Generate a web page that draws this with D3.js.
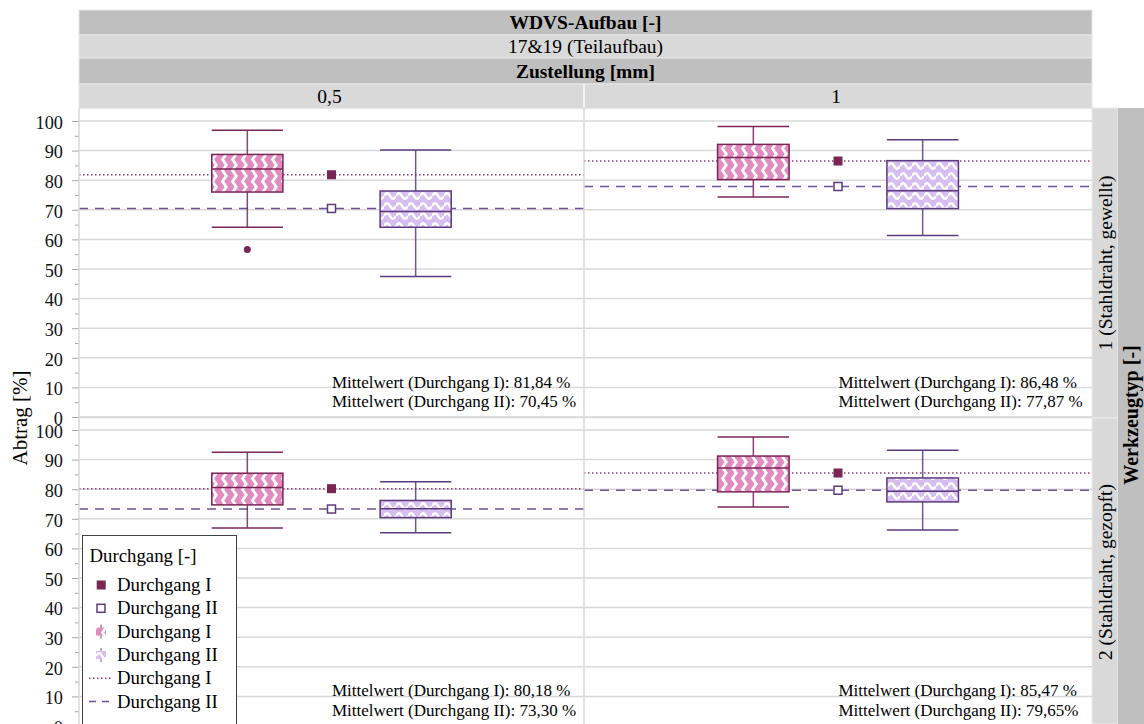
<!DOCTYPE html>
<html><head><meta charset="utf-8">
<script src="https://cdn.jsdelivr.net/npm/d3@7"></script>
<style>
html,body{margin:0;padding:0;background:#fff;}
svg{display:block;}
svg text{font-family:"Liberation Serif","Tinos","Times New Roman","Times","DejaVu Serif","Noto Serif",serif !important;}
</style></head>
<body><svg id="chart" width="1144" height="724" font-family="Liberation Serif, Tinos, Times New Roman, DejaVu Serif, serif"></svg>
<script>
// ---------- data ----------
const columns = ["0,5", "1"];
const rows = ["1 (Stahldraht, gewellt)", "2 (Stahldraht, gezopft)"];
const slots = ["Durchgang I", "Mittelwert", "Durchgang II"];
const yTicks = [0,10,20,30,40,50,60,70,80,90,100];
const yMinorTicks = [5,15,25,35,45,55,65,75,85,95];
// five-number summaries [min, q1, median, q3, max], indexed [row][column]
const boxI = [
  [[64.1, 76.0, 83.8, 88.7, 96.9], [74.3, 80.2, 87.7, 92.1, 98.1]],
  [[66.9, 74.7, 80.6, 85.4, 92.5], [74.0, 79.1, 87.2, 91.2, 97.6]]
];
const boxII = [
  [[47.5, 64.1, 69.4, 76.35, 90.2], [61.3, 70.4, 76.4, 86.6, 93.7]],
  [[65.3, 70.4, 73.4, 76.2, 82.5], [66.2, 75.7, 79.3, 83.8, 93.2]]
];
const outliersI = [[[56.6], []], [[], []]];
const outliersII = [[[], []], [[], []]];
const meanI = [[81.84, 86.48], [80.18, 85.47]];
const meanII = [[70.45, 77.87], [73.30, 79.65]];
const meanTextI = [["81,84 %", "86,48 %"], ["80,18 %", "85,47 %"]];
const meanTextII = [["70,45 %", "77,87 %"], ["73,30 %", "79,65%"]];
const legendItems = ["Durchgang I", "Durchgang II", "Durchgang I", "Durchgang II", "Durchgang I", "Durchgang II"];

// ---------- style ----------
const colI = "#7b2456", colII = "#5b3a7e";
const lineI = "#8a3c70", lineII = "#6e5296";
const fillI = "#e08cc0", fillII = "#d6bff0";
const gridCol = "#d9d9d9", darkBand = "#bfbfbf", lightBand = "#d9d9d9";

const svg = d3.select("#chart");
const defs = svg.append("defs");
const pI = defs.append("pattern").attr("id","patI").attr("patternUnits","userSpaceOnUse")
  .attr("width",10).attr("height",11);
pI.append("rect").attr("width",10).attr("height",11).attr("fill",fillI);
pI.append("path").attr("d","M7,-1 L2.5,5.5 L7,12").attr("fill","none").attr("stroke","#fff").attr("stroke-width",2.8);
const pII = defs.append("pattern").attr("id","patII").attr("patternUnits","userSpaceOnUse")
  .attr("width",12).attr("height",10);
pII.append("rect").attr("width",12).attr("height",10).attr("fill",fillII);
pII.append("path").attr("d","M0,6 Q3,0.5 6,6 T12,6").attr("fill","none").attr("stroke","#fff").attr("stroke-width",2.6);

// ---------- layout ----------
const plotL = 79, plotR = 1092, colMid = 584;
const colX = [[plotL, colMid], [colMid, plotR]];
const rowTop = [108, 418];
const rowY = [[417, 121], [726, 430]];
const headerY = [10, 35, 58, 84, 108];
const fsHead = 19.5, fsText = 17, fsTick = 18.3, fsLegend = 18.8;

const bandFill = [darkBand, lightBand, darkBand, lightBand];
const bandText = [["WDVS-Aufbau [-]", true], ["17&19 (Teilaufbau)", false], ["Zustellung [mm]", true]];
for (let i = 0; i < 4; i++) {
  svg.append("rect").attr("x", plotL).attr("y", headerY[i]).attr("width", plotR - plotL)
    .attr("height", headerY[i+1] - headerY[i]).attr("fill", bandFill[i])
    .attr("stroke", "#e8e8e8").attr("stroke-width", 1);
}
bandText.forEach((t, i) => {
  svg.append("text").attr("x", (plotL + plotR) / 2).attr("y", (headerY[i] + headerY[i+1]) / 2 + 6.5)
    .attr("text-anchor", "middle").attr("font-size", fsHead).attr("font-weight", t[1] ? "bold" : "normal")
    .text(t[0]);
});
columns.forEach((c, ci) => {
  svg.append("text").attr("x", (colX[ci][0] + colX[ci][1]) / 2 - 2).attr("y", (headerY[3] + headerY[4]) / 2 + 6.5)
    .attr("text-anchor", "middle").attr("font-size", fsHead).text(c);
});
svg.append("line").attr("x1", colMid).attr("x2", colMid).attr("y1", headerY[3]).attr("y2", headerY[4])
  .attr("stroke", "#f4f4f4").attr("stroke-width", 2);

rows.forEach((r, ri) => {
  const y0 = rowTop[ri], y1 = ri === 0 ? rowTop[1] : 724;
  svg.append("rect").attr("x", plotR).attr("y", y0).attr("width", 26).attr("height", y1 - y0)
    .attr("fill", lightBand).attr("stroke", "#ececec").attr("stroke-width", 1);
  const cy = ri === 0 ? (y0 + y1) / 2 : 572;
  svg.append("text").attr("transform", `translate(${plotR + 19.5},${cy}) rotate(-90)`)
    .attr("text-anchor", "middle").attr("font-size", fsHead).text(r);
});
svg.append("rect").attr("x", plotR + 26).attr("y", rowTop[0]).attr("width", 26).attr("height", 724 - rowTop[0])
  .attr("fill", darkBand);
svg.append("text").attr("transform", `translate(${plotR + 45.5},415) rotate(-90)`)
  .attr("text-anchor", "middle").attr("font-size", 20).attr("font-weight", "bold").text("Werkzeugtyp [-]");

svg.append("text").attr("transform", "translate(27,418) rotate(-90)")
  .attr("text-anchor", "middle").attr("font-size", 21).text("Abtrag [%]");

// ---------- panels ----------
rows.forEach((r, ri) => {
  const y = d3.scaleLinear().domain([0, 100]).range(rowY[ri]);

  const ax = svg.append("g").attr("transform", `translate(${plotL},0)`)
    .call(d3.axisLeft(y).tickValues(yTicks).tickSize(7).tickPadding(9).tickFormat(d3.format("d")));
  ax.attr("font-family", null);
  ax.select(".domain").remove();
  ax.selectAll(".tick line").attr("stroke", "#a6a6a6");
  ax.selectAll(".tick text").attr("font-size", fsTick).attr("fill", "#111").attr("dy", "0.4em");
  const axm = svg.append("g").attr("transform", `translate(${plotL},0)`)
    .call(d3.axisLeft(y).tickValues(yMinorTicks).tickSize(4).tickFormat(""));
  axm.select(".domain").remove();
  axm.selectAll(".tick line").attr("stroke", "#a6a6a6");

  columns.forEach((c, ci) => {
    const x = d3.scalePoint().domain(slots).range(colX[ci]).padding(2);
    const bw = x.step() * 0.845;
    const g = svg.append("g");

    g.selectAll("line.grid").data(yTicks).join("line")
      .attr("x1", colX[ci][0]).attr("x2", colX[ci][1])
      .attr("y1", d => y(d)).attr("y2", d => y(d))
      .attr("stroke", gridCol).attr("stroke-width", 1.5);

    g.append("line").attr("x1", colX[ci][0]).attr("x2", colX[ci][1])
      .attr("y1", y(meanI[ri][ci])).attr("y2", y(meanI[ri][ci]))
      .attr("stroke", lineI).attr("stroke-width", 1.5).attr("stroke-dasharray", "1.5,2.5");
    g.append("line").attr("x1", colX[ci][0]).attr("x2", colX[ci][1])
      .attr("y1", y(meanII[ri][ci])).attr("y2", y(meanII[ri][ci]))
      .attr("stroke", lineII).attr("stroke-width", 1.6).attr("stroke-dasharray", "9,7");

    const boxes = [
      {s: slots[0], v: boxI[ri][ci], col: colI, pat: "url(#patI)", out: outliersI[ri][ci]},
      {s: slots[2], v: boxII[ri][ci], col: colII, pat: "url(#patII)", out: outliersII[ri][ci]}
    ];
    boxes.forEach(b => {
      const cx = x(b.s);
      const [mn, q1, md, q3, mx] = b.v;
      g.append("line").attr("x1", cx).attr("x2", cx).attr("y1", y(mx)).attr("y2", y(q3))
        .attr("stroke", b.col).attr("stroke-width", 1.5).attr("opacity", 0.85);
      g.append("line").attr("x1", cx).attr("x2", cx).attr("y1", y(q1)).attr("y2", y(mn))
        .attr("stroke", b.col).attr("stroke-width", 1.5).attr("opacity", 0.85);
      [mn, mx].forEach(v => g.append("line").attr("x1", cx - bw / 2).attr("x2", cx + bw / 2)
        .attr("y1", y(v)).attr("y2", y(v)).attr("stroke", b.col).attr("stroke-width", 1.5));
      g.append("rect").attr("x", cx - bw / 2).attr("y", y(q3)).attr("width", bw)
        .attr("height", y(q1) - y(q3)).attr("fill", b.pat).attr("stroke", b.col).attr("stroke-width", 1.5);
      g.append("line").attr("x1", cx - bw / 2).attr("x2", cx + bw / 2)
        .attr("y1", y(md)).attr("y2", y(md)).attr("stroke", b.col).attr("stroke-width", 1.5);
      g.selectAll(null).data(b.out).join("circle").attr("cx", cx).attr("cy", d => y(d)).attr("r", 3.5)
        .attr("fill", b.col);
    });

    const mx = x(slots[1]);
    g.append("rect").attr("x", mx - 4.5).attr("y", y(meanI[ri][ci]) - 4.5).attr("width", 9).attr("height", 9)
      .attr("fill", colI);
    g.append("rect").attr("x", mx - 4).attr("y", y(meanII[ri][ci]) - 4).attr("width", 8).attr("height", 8)
      .attr("fill", "#fff").attr("stroke", colII).attr("stroke-width", 1.5);

    const tx = mx + 0.5;
    const ty = ri === 0 ? 387.5 : 696;
    g.append("text").attr("x", tx).attr("y", ty).attr("font-size", fsText)
      .text("Mittelwert (Durchgang I): " + meanTextI[ri][ci]);
    g.append("text").attr("x", tx).attr("y", ty + 19.5).attr("font-size", fsText)
      .text("Mittelwert (Durchgang II): " + meanTextII[ri][ci]);
  });
});

svg.append("line").attr("x1", colMid).attr("x2", colMid).attr("y1", rowTop[0]).attr("y2", 724)
  .attr("stroke", gridCol).attr("stroke-width", 1.5);
svg.append("line").attr("x1", plotL).attr("x2", plotR).attr("y1", rowTop[1] - 0.5).attr("y2", rowTop[1] - 0.5)
  .attr("stroke", gridCol).attr("stroke-width", 1.5);
svg.append("line").attr("x1", plotL).attr("x2", plotR).attr("y1", rowTop[0]).attr("y2", rowTop[0])
  .attr("stroke", gridCol).attr("stroke-width", 1);
svg.append("line").attr("x1", plotL).attr("x2", plotL).attr("y1", rowTop[0]).attr("y2", 724)
  .attr("stroke", gridCol).attr("stroke-width", 1.5);

// ---------- legend ----------
const lg = svg.append("g");
lg.append("rect").attr("x", 82.5).attr("y", 535.5).attr("width", 154).attr("height", 200)
  .attr("fill", "#fff").attr("stroke", "#404040").attr("stroke-width", 1);
lg.append("text").attr("x", 89.5).attr("y", 562).attr("font-size", fsLegend).text("Durchgang [-]");
const ly = d3.scalePoint().domain(d3.range(legendItems.length)).range([585, 701.5]);
legendItems.forEach((t, i) => {
  const yy = ly(i);
  lg.append("text").attr("x", 117).attr("y", yy + 6).attr("font-size", fsLegend).text(t);
  if (i === 0) lg.append("rect").attr("x", 96.7).attr("y", yy - 4.5).attr("width", 9).attr("height", 9).attr("fill", colI);
  if (i === 1) lg.append("rect").attr("x", 97).attr("y", yy - 4).attr("width", 8).attr("height", 8)
    .attr("fill", "#fff").attr("stroke", colII).attr("stroke-width", 1.5);
  if (i === 2 || i === 3) {
    const c = i === 2 ? colI : colII;
    lg.append("line").attr("x1", 101).attr("x2", 101).attr("y1", yy - 7).attr("y2", yy + 7)
      .attr("stroke", c).attr("stroke-width", 1.2).attr("opacity", 0.7);
    lg.append("rect").attr("x", 96).attr("y", yy - 4).attr("width", 10).attr("height", 8)
      .attr("fill", i === 2 ? "url(#patI)" : "url(#patII)");
  }
  if (i === 4) lg.append("line").attr("x1", 89).attr("x2", 111).attr("y1", yy).attr("y2", yy)
    .attr("stroke", lineI).attr("stroke-width", 1.5).attr("stroke-dasharray", "1.5,2.5");
  if (i === 5) lg.append("line").attr("x1", 89).attr("x2", 111).attr("y1", yy).attr("y2", yy)
    .attr("stroke", lineII).attr("stroke-width", 1.6).attr("stroke-dasharray", "7,6");
});
</script></body></html>
